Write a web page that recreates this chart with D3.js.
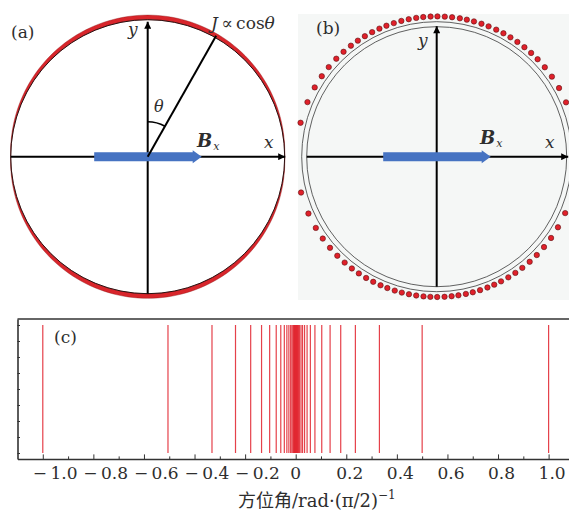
<!DOCTYPE html>
<html lang="zh">
<head>
<meta charset="UTF-8">
<title>J ∝ cosθ</title>
<script src="https://d3js.org/d3.v7.min.js"></script>
<style>
    body, html {
        margin: 0;
        padding: 0;
        background: #ffffff;
        overflow: hidden;
    }
    svg text {
        font-family: 'DejaVu Serif', serif;
        fill: #2e2e2e;
    }
    .it { font-style: italic; }
</style>
</head>
<body>
<svg id="chart" width="569" height="512"></svg>
<script>
    // panel labels
    const panelLabels = ["(a)", "(b)", "(c)"];

    // (a) angle of the J line measured from the y axis, degrees
    const thetaDeg = 29.5;

    // (b) angular positions of the wires, degrees from +x (counter-clockwise)
    const dotAnglesUpper = [14, 22.8, 29.3, 34.8, 39.6, 44, 47.7, 51.3, 54.9, 58.3, 61.6, 64.9, 68.3,
        71.4, 74.6, 77.6, 80.5, 83.7, 86.7, 89.7, 92.5, 95.5, 98.4, 101.5, 104.6, 107.8, 111, 114.1,
        117.4, 120.8, 124.2, 127.7, 131.6, 135.7, 140.3, 145, 150.4, 157.1, 166];
    const dotAnglesLower = [-14.7, -23.7, -30.2, -35.4, -40.1, -44.5, -48.5, -52.4, -55.9, -59.3, -62.7,
        -65.8, -68.8, -72, -75.1, -78, -81.1, -83.9, -86.8, -89.8, -92.6, -95.4, -98.4, -101.4, -104.4,
        -107.4, -110.6, -113.6, -116.9, -120.2, -123.7, -127.2, -131, -135.1, -139.5, -144.3, -149.5,
        -156.1, -165.2];

    // (c) azimuth of each wire, in units of pi/2
    const azimuths = [-1.0, -0.505, -0.331, -0.238, -0.178, -0.135, -0.103, -0.077, -0.059, -0.045,
        -0.035, -0.027, -0.020, -0.015, -0.011, -0.008, -0.006, -0.004, -0.002, 0,
        0.002, 0.004, 0.006, 0.008, 0.011, 0.015, 0.021, 0.027, 0.035, 0.045, 0.058, 0.076,
        0.103, 0.136, 0.178, 0.236, 0.331, 0.5, 1.0];

    const xTicks = [-1.0, -0.8, -0.6, -0.4, -0.2, 0, 0.2, 0.4, 0.6, 0.8, 1.0];
    const xTickLabels = ["−1.0", "−0.8", "−0.6", "−0.4", "−0.2", "0", "0.2", "0.4", "0.6", "0.8", "1.0"];
    const xMinorTicks = [-0.9, -0.7, -0.5, -0.3, -0.1, 0.1, 0.3, 0.5, 0.7, 0.9];
    const yTicks = [0, 1, 2, 3, 4, 5, 6, 7, 8];

    const svg = d3.select("#chart");
    const blue = "#4673c2";
    const red = "#e0202a";

    const defs = svg.append("defs");
    defs.append("marker")
        .attr("id", "tip")
        .attr("markerUnits", "userSpaceOnUse")
        .attr("viewBox", "0 0 10 10")
        .attr("refX", 10).attr("refY", 5)
        .attr("markerWidth", 8).attr("markerHeight", 7)
        .attr("orient", "auto")
        .append("path")
        .attr("d", "M0,0 L10,5 L0,10 Z")
        .attr("fill", "#000");

    function axes(g, cx, cy, left, right, bottom, top) {
        g.append("line")
            .attr("x1", cx - left).attr("y1", cy).attr("x2", cx + right).attr("y2", cy)
            .attr("stroke", "#000").attr("stroke-width", 2).attr("marker-end", "url(#tip)");
        g.append("line")
            .attr("x1", cx).attr("y1", cy + bottom).attr("x2", cx).attr("y2", cy - top)
            .attr("stroke", "#000").attr("stroke-width", 2).attr("marker-end", "url(#tip)");
    }

    function fieldArrow(g, cx, cy) {
        g.append("path")
            .attr("d", `M${cx - 53.5},${cy - 4.5} H${cx + 45} V${cy - 6.5} L${cx + 54},${cy} L${cx + 45},${cy + 6.5} V${cy + 4.5} H${cx - 53.5} Z`)
            .attr("fill", blue);
    }

    function fieldLabel(g, x, y) {
        const t = g.append("text").attr("x", x).attr("y", y);
        t.append("tspan").attr("font-weight", "bold").attr("font-style", "italic")
            .attr("font-size", 18).text("B");
        t.append("tspan").attr("class", "it").attr("font-size", 11).attr("dy", 3).attr("dx", 1).text("x");
    }

    // ---------- (a) ----------
    const a = svg.append("g");
    const cxA = 147.7, cy = 156.7, R = 137, band = 4.6;

    const outer = d3.range(0, 361, 2).map(d => {
        const p = d * Math.PI / 180;
        const r = R + band * Math.abs(Math.sin(p));
        return [cxA + r * Math.cos(p), cy - r * Math.sin(p)];
    });
    const inner = d3.range(360, -1, -2).map(d => {
        const p = d * Math.PI / 180;
        return [cxA + R * Math.cos(p), cy - R * Math.sin(p)];
    });
    a.append("path")
        .attr("d", d3.line()(outer) + "Z" + d3.line()(inner) + "Z")
        .attr("fill", "#d8252b")
        .attr("stroke", "#8a1515")
        .attr("stroke-width", 0.4);
    a.append("circle")
        .attr("cx", cxA).attr("cy", cy).attr("r", R)
        .attr("fill", "none").attr("stroke", "#2a1010").attr("stroke-width", 1);

    axes(a, cxA, cy, R, 137.5, R, 135);
    fieldArrow(a, cxA, cy);

    const th = thetaDeg * Math.PI / 180;
    a.append("line")
        .attr("x1", cxA).attr("y1", cy)
        .attr("x2", cxA + 139 * Math.sin(th)).attr("y2", cy - 139 * Math.cos(th))
        .attr("stroke", "#000").attr("stroke-width", 2);
    a.append("path")
        .attr("d", d3.arc().innerRadius(35).outerRadius(35).startAngle(0).endAngle(th)())
        .attr("transform", `translate(${cxA},${cy})`)
        .attr("fill", "none").attr("stroke", "#000").attr("stroke-width", 1.6);

    a.append("text").attr("class", "it").attr("x", 154).attr("y", 112).attr("font-size", 16).text("θ");
    const jt = a.append("text").attr("x", 211).attr("y", 29).attr("font-size", 17);
    jt.append("tspan").attr("class", "it").text("J");
    jt.append("tspan").text("\u2009∝\u2009cos");
    jt.append("tspan").attr("class", "it").text("θ");
    a.append("text").attr("class", "it").attr("x", 128).attr("y", 35).attr("font-size", 17).text("y");
    a.append("text").attr("class", "it").attr("x", 264).attr("y", 148).attr("font-size", 17).text("x");
    fieldLabel(a, 197, 147);
    a.append("text").attr("x", 11).attr("y", 38).attr("font-size", 17).text(panelLabels[0]);

    // ---------- (b) ----------
    const b = svg.append("g");
    const cxB = 436.7, R1 = 135, R2 = 130, Rd = 140.3;
    b.append("rect")
        .attr("x", 298).attr("y", 14).attr("width", 275).attr("height", 286)
        .attr("fill", "#f5f7f6");
    [R1, R2].forEach(r => {
        b.append("circle")
            .attr("cx", cxB).attr("cy", cy).attr("r", r)
            .attr("fill", "none").attr("stroke", "#3a3a3a").attr("stroke-width", 0.8);
    });
    axes(b, cxB, cy, R2, 131.5, R2, 130.5);
    fieldArrow(b, cxB, cy);

    b.selectAll("circle.wire")
        .data(dotAnglesUpper.concat(dotAnglesLower))
        .join("circle")
        .attr("class", "wire")
        .attr("cx", d => cxB + Rd * Math.cos(d * Math.PI / 180))
        .attr("cy", d => cy - Rd * Math.sin(d * Math.PI / 180))
        .attr("r", 2.7)
        .attr("fill", red)
        .attr("stroke", "#5a1010")
        .attr("stroke-width", 0.6);

    b.append("text").attr("class", "it").attr("x", 418).attr("y", 46).attr("font-size", 17).text("y");
    b.append("text").attr("class", "it").attr("x", 545).attr("y", 148).attr("font-size", 17).text("x");
    fieldLabel(b, 480, 144);
    b.append("text").attr("x", 316).attr("y", 34).attr("font-size", 17).text(panelLabels[1]);

    // ---------- (c) ----------
    const c = svg.append("g");
    const x = d3.scaleLinear().domain([-1.1, 1.1]).range([17.5, 573.9]);
    const y = d3.scaleLinear().domain([-0.375, 8.375]).range([459, 319]);

    c.selectAll("line.wire")
        .data(azimuths)
        .join("line")
        .attr("class", "wire")
        .attr("x1", d => x(d)).attr("x2", d => x(d))
        .attr("y1", y(0)).attr("y2", y(8))
        .attr("stroke", red)
        .attr("stroke-width", 1.2)
        .attr("stroke-opacity", 0.85);

    const frame = "#333";
    c.append("g")
        .attr("transform", `translate(0,${y(-0.375)})`)
        .call(d3.axisBottom(x).tickValues(xMinorTicks).tickSize(-2.6).tickSizeOuter(0).tickFormat(""))
        .call(g => g.select(".domain").remove());
    c.append("g")
        .attr("transform", `translate(0,${y(-0.375)})`)
        .call(d3.axisBottom(x).tickValues(xTicks).tickSize(-4.6).tickSizeOuter(0).tickFormat(""))
        .call(g => g.select(".domain").attr("stroke-width", 1.6));
    c.append("g")
        .attr("transform", `translate(${x(-1.1)},0)`)
        .call(d3.axisLeft(y).tickValues(yTicks).tickSize(-2.5).tickSizeOuter(0).tickFormat(""))
        .call(g => g.select(".domain").attr("stroke-width", 1.6));
    c.selectAll(".tick line").attr("stroke", frame).attr("stroke-width", 1);
    c.selectAll(".domain").attr("stroke", frame);
    c.append("line")
        .attr("x1", x(-1.1)).attr("x2", 569)
        .attr("y1", y(8.375)).attr("y2", y(8.375))
        .attr("stroke", frame).attr("stroke-width", 1.6);

    c.selectAll("text.tl")
        .data(xTicks)
        .join("text")
        .attr("class", "tl")
        .attr("x", d => d === 0 ? x(d) : x(d) - 10)
        .attr("y", 479)
        .attr("font-size", 17)
        .attr("text-anchor", d => d === 0 ? "middle" : "start")
        .text((d, i) => xTickLabels[i].replace("−", "−\u2009"));

    const title = c.append("text").attr("x", 238).attr("y", 507).attr("font-size", 18);
    title.append("tspan").style("font-family", "'Noto Sans CJK SC', sans-serif").text("方位角");
    title.append("tspan").text("/rad·(π/2)");
    title.append("tspan").attr("font-size", 12).attr("dy", -8).text("−1");

    c.append("text").attr("x", 54).attr("y", 343).attr("font-size", 17).text(panelLabels[2]);
</script>
</body>
</html>
